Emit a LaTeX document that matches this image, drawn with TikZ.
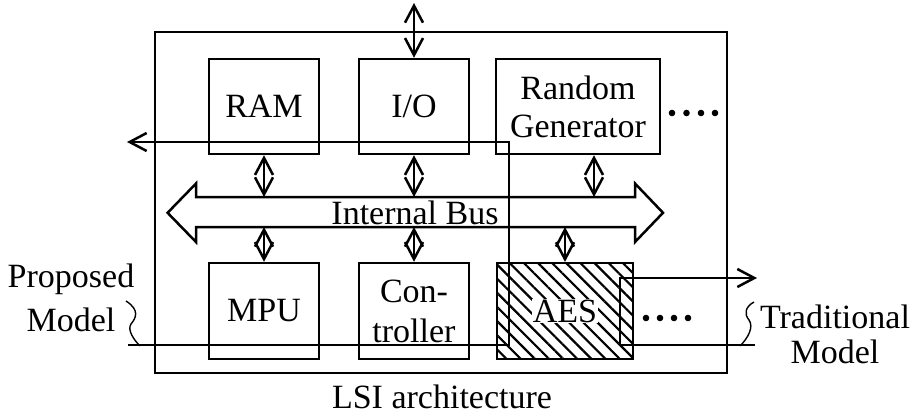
\documentclass[tikz,border=0pt]{standalone}
\usepackage{fontspec}
\setmainfont{Liberation Serif}
\usetikzlibrary{arrows.meta,patterns.meta}
\begin{document}
\begin{tikzpicture}[x=1pt,y=-1pt, line width=2.5pt,
  >={Straight Barb[length=17pt,width=18pt]},
  every node/.style={font=\fontsize{34}{38}\selectfont, inner sep=0pt},
  box/.style={draw, rectangle, align=center},
  txt/.style={anchor=base},
  squig/.style={line width=1.4pt}]
\useasboundingbox (0,0) rectangle (913,418);
% outer LSI box
\node[box, minimum width=572pt, minimum height=341pt] (lsi) at (441,202.5) {};
% upper row
\node[box, minimum width=110pt, minimum height=95pt] (ram) at (264,106.5) {RAM};
\node[box, minimum width=110pt, minimum height=95pt] (io) at (414,106.5) {I/O};
\node[box, minimum width=164pt, minimum height=95pt] (rg) at (578,106.5) {Random\\Generator};
% lower row
\node[box, minimum width=110pt, minimum height=96pt] (mpu) at (264,311) {MPU};
\node[box, minimum width=110pt, minimum height=96pt, font=\fontsize{34}{40}\selectfont] (ctrl) at (414,311) {Con-\\troller};
\node[draw, pattern={Lines[angle=-45,distance=10pt,line width=2.2pt]}, minimum width=136pt, minimum height=96pt] (aes) at (565,311) {};
\node[fill=white, inner sep=1pt] (aeslabel) at (aes.center) {AES};
% internal bus
\coordinate (bustop) at (0,197);
\coordinate (busbot) at (0,227);
\draw (167.6,212.8) -- (196,183.5) -- (196,197) -- (635,197) -- (635,183.5) -- (663,212.8)
  -- (635,242) -- (635,227) -- (196,227) -- (196,242) -- cycle;
\node (bus) at (415,213) {Internal Bus};
% bus links
\coordinate (rgport) at ([xshift=16pt]rg.south);
\draw[<->] (ram.south) -- (ram.south |- bustop);
\draw[<->] (io.south) -- (io.south |- bustop);
\draw[<->] (rgport) -- (rgport |- bustop);
\draw[<->] (busbot -| mpu.north) -- (mpu.north);
\draw[<->] (busbot -| ctrl.north) -- (ctrl.north);
\draw[<->] (busbot -| aes.north) -- (aes.north);
% external I/O
\coordinate (ext) at (414,3);
\draw[<->] (io.north |- ext) -- (io.north);
% dots
\foreach \x in {672,686.5,701,715} \fill (\x,113) circle (3.3pt);
\foreach \x in {646,660,674,688} \fill (\x,318) circle (3.3pt);
% proposed model path
\coordinate (pL) at (128,345);
\coordinate (pC) at (509,345);
\coordinate (pT) at (509,142);
\coordinate (pA) at (127,142);
\draw[->] (pL) -- (pC) -- (pT) -- (pA);
% traditional model path
\coordinate (tR) at (755,345);
\coordinate (tC) at (620,345);
\coordinate (tT) at (620,278);
\coordinate (tA) at (757,278);
\draw[->] (tR) -- (tC) -- (tT) -- (tA);
% labels
\node[txt] (prop1) at (71,287) {Proposed};
\node[txt] (prop2) at (71,331) {Model};
\coordinate (ps) at (126,301);
\draw[squig] (ps) .. controls (140,310) and (136,318) .. (131,324) .. controls (127,330) and (134,340) .. (140,346);
\node[txt] (trad1) at (835,328) {Traditional};
\node[txt] (trad2) at (835,363) {Model};
\coordinate (ts) at (754,302);
\draw[squig] (ts) .. controls (745,307) and (744,314) .. (749,320) .. controls (754,327) and (748,338) .. (740,346);
\node[txt] (lsilabel) at (442,408) {LSI architecture};
\end{tikzpicture}
\end{document}
